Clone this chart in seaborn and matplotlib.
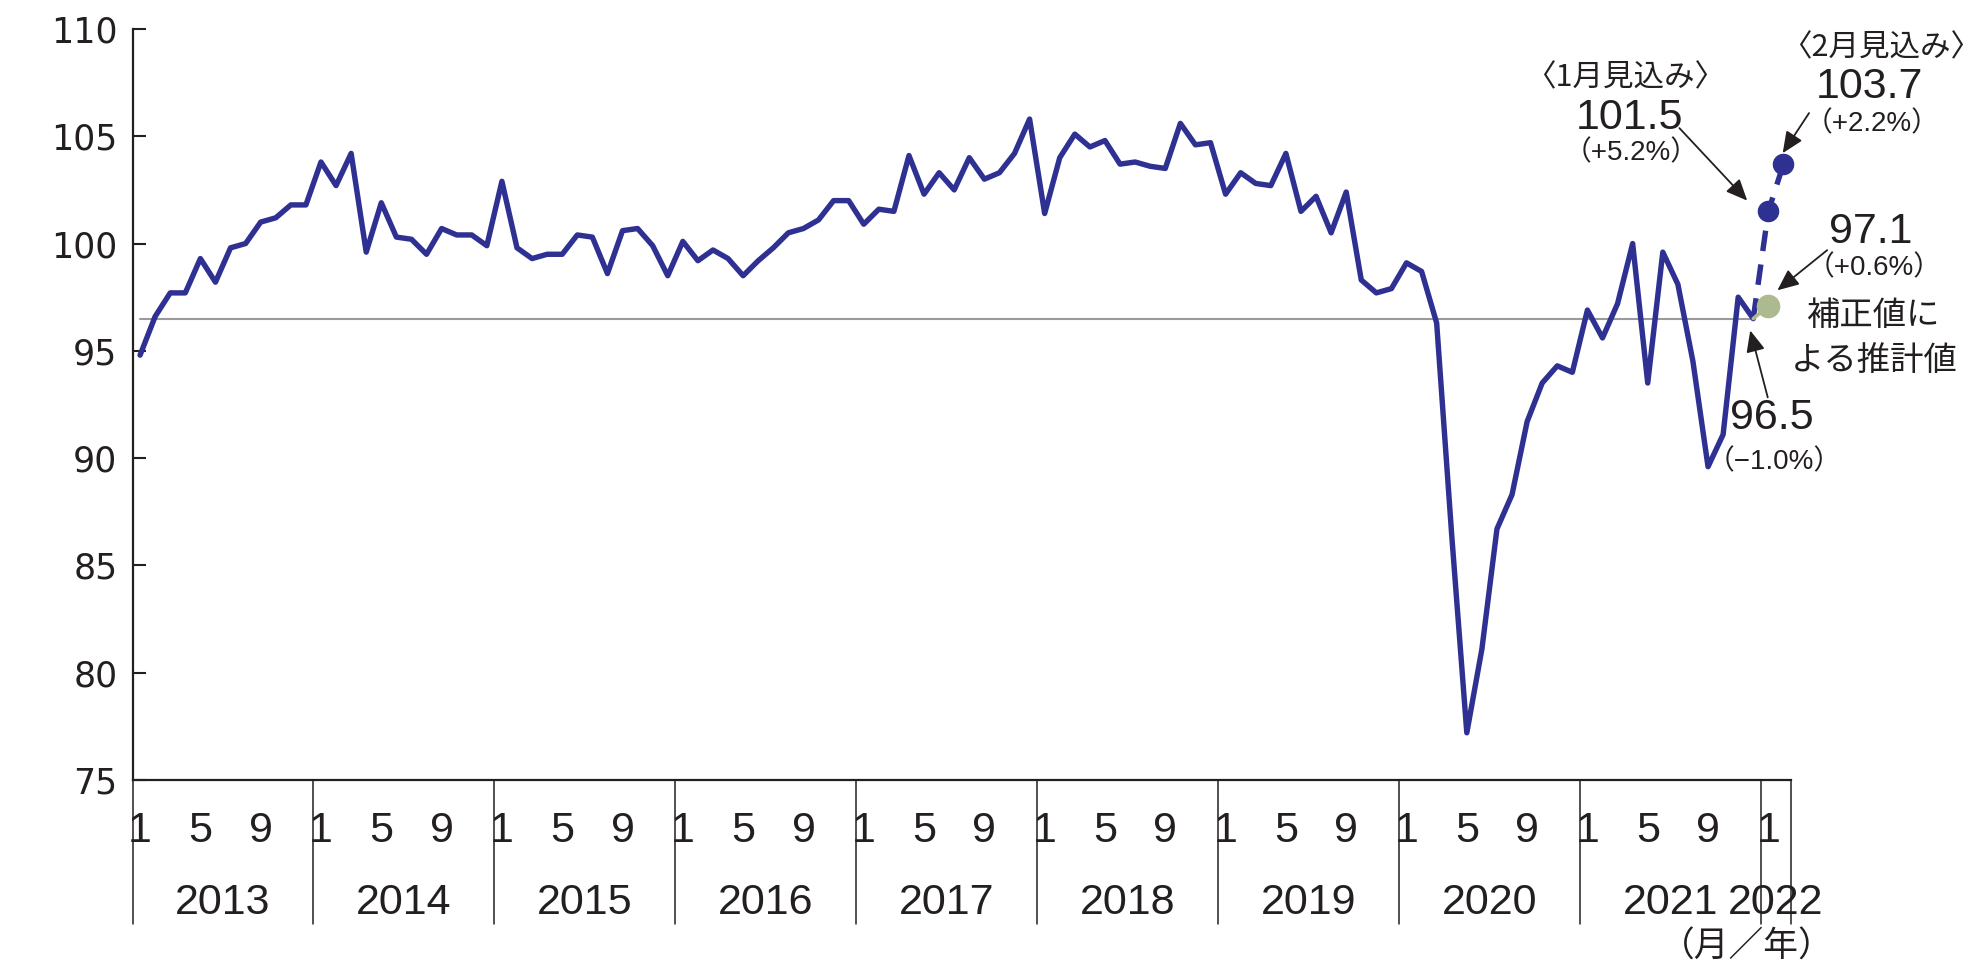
import matplotlib
matplotlib.use("Agg")
import matplotlib.pyplot as plt
from matplotlib import font_manager
import seaborn as sns
import pandas as pd
import numpy as np

# ---------------- data ----------------
years = [2013, 2014, 2015, 2016, 2017, 2018, 2019, 2020, 2021]
v2013 = [94.8, 96.6, 97.7, 97.7, 99.3, 98.2, 99.8, 100.0, 101.0, 101.2, 101.8, 101.8]
v2014 = [103.8, 102.7, 104.2, 99.6, 101.9, 100.3, 100.2, 99.5, 100.7, 100.4, 100.4, 99.9]
v2015 = [102.9, 99.8, 99.3, 99.5, 99.5, 100.4, 100.3, 98.6, 100.6, 100.7, 99.9, 98.5]
v2016 = [100.1, 99.2, 99.7, 99.3, 98.5, 99.2, 99.8, 100.5, 100.7, 101.1, 102.0, 102.0]
v2017 = [100.9, 101.6, 101.5, 104.1, 102.3, 103.3, 102.5, 104.0, 103.0, 103.3, 104.2, 105.8]
v2018 = [101.4, 104.0, 105.1, 104.5, 104.8, 103.7, 103.8, 103.6, 103.5, 105.6, 104.6, 104.7]
v2019 = [102.3, 103.3, 102.8, 102.7, 104.2, 101.5, 102.2, 100.5, 102.4, 98.3, 97.7, 97.9]
v2020 = [99.1, 98.7, 96.3, 86.4, 77.2, 81.1, 86.7, 88.3, 91.7, 93.5, 94.3, 94.0]
v2021 = [96.9, 95.6, 97.2, 100.0, 93.5, 99.6, 98.1, 94.5, 89.6, 91.1, 97.5, 96.5]

forecast_labels = ["2022-01", "2022-02"]
forecast_values = [101.5, 103.7]
corrected_value = 97.1   # 補正値による推計値 (2022-01)

month_tick_months = [1, 5, 9]
ytick_values = [75, 80, 85, 90, 95, 100, 105, 110]

# ---------------- build table ----------------
actual = v2013 + v2014 + v2015 + v2016 + v2017 + v2018 + v2019 + v2020 + v2021
dates = [f"{y}-{m:02d}" for y in years for m in range(1, 13)]
df = pd.DataFrame({"date": dates, "value": actual})
df["idx"] = np.arange(len(df))
n = len(df)
last_idx = n - 1
last_val = actual[-1]

fc = pd.DataFrame({"date": [dates[-1]] + forecast_labels,
                   "value": [last_val] + forecast_values})
fc["idx"] = np.arange(last_idx, last_idx + len(fc))

corr = pd.DataFrame({"idx": [last_idx, last_idx + 1], "value": [last_val, corrected_value]})

# ---------------- fonts ----------------
names = {f.name for f in font_manager.fontManager.ttflist}
NARROW = "Liberation Sans Narrow" if "Liberation Sans Narrow" in names else "Liberation Sans"
JP = "Noto Sans CJK JP"
NUMFAM = [NARROW, JP, "DejaVu Sans"]
JPFAM = [JP, "DejaVu Sans"]

sns.set_theme(style="white")
plt.rcParams["font.family"] = NUMFAM
plt.rcParams["axes.unicode_minus"] = True

BLUE = "#2E3192"
GREEN = "#ADB98E"
GREY = "#9A9A9A"
INK = "#231F20"
LW = 3.9

fig = plt.figure(figsize=(19.84, 9.65), dpi=100)
ax = fig.add_axes([0.0668, 0.1917, 0.8359, 0.7783])

# reference line at latest value
ax.plot([0, last_idx], [last_val, last_val], color=GREY, lw=1.5, zorder=1)

sns.lineplot(data=df, x="idx", y="value", ax=ax, color=BLUE, lw=LW, zorder=3)
sns.lineplot(data=fc, x="idx", y="value", ax=ax, color=BLUE, lw=LW, zorder=3,
             dashes=False, linestyle=(0, (3.8, 2.5)))
ax.plot(fc["idx"].iloc[1:], fc["value"].iloc[1:], "o", color=BLUE, ms=14.5, zorder=4)
sns.lineplot(data=corr, x="idx", y="value", ax=ax, color=GREEN, lw=2.6, zorder=4)
ax.plot([last_idx + 1], [corrected_value], "o", color=GREEN, ms=16, zorder=5)
for art in ax.lines:
    art.set_clip_on(False)

# axes limits / spines
ax.set_xlim(-0.5, n + 1.5)
ax.set_ylim(75, 110)
ax.set_xlabel("")
ax.set_ylabel("")
for s in ["top", "right"]:
    ax.spines[s].set_visible(False)
for s in ["left", "bottom"]:
    ax.spines[s].set_color(INK)
    ax.spines[s].set_linewidth(1.6)

ax.set_yticks(ytick_values)
ax.set_yticklabels([str(v) for v in ytick_values], family=["DejaVu Sans"], fontsize=25, color=INK)
ax.tick_params(axis="y", direction="in", length=9, width=1.5, color=INK, pad=11, left=True)

# month tick labels
all_months = [(y, m) for y in years for m in range(1, 13)] + [(2022, 1), (2022, 2)]
tick_pos = [i for i, (y, m) in enumerate(all_months) if m in month_tick_months]
tick_lab = [str(all_months[i][1]) for i in tick_pos]
ax.set_xticks(tick_pos)
ax.set_xticklabels(tick_lab, fontsize=31, color=INK)
ax.tick_params(axis="x", length=0, pad=22, bottom=False)

# year dividers and labels
tr = ax.get_xaxis_transform()
all_years = years + [2022]
bounds = []
for y in all_years:
    ids = [i for i, (yy, m) in enumerate(all_months) if yy == y]
    bounds.append((ids[0] - 0.5, ids[-1] + 0.5))
edges = sorted(set([b[0] for b in bounds] + [bounds[-1][1]]))
for e in edges:
    ax.plot([e, e], [0, -0.192], transform=tr, color=INK, lw=1.1, clip_on=False)
for y, (a, b) in zip(all_years, bounds):
    ax.text((a + b) / 2, -0.164, str(y), transform=tr, ha="center", va="center",
            fontsize=31, color=INK)
ax.text(106.6, -0.222, "（月／年）", transform=tr, ha="center", va="center",
        fontsize=25, family=JPFAM, color=INK)

# ---------------- annotations ----------------
def label(x, y, s, size, fam=NUMFAM):
    ax.text(x, y, s, ha="center", va="center", fontsize=size, family=fam,
            color=INK, clip_on=False)

def arrow(x0, y0, x1, y1):
    ax.annotate("", xy=(x1, y1), xytext=(x0, y0), annotation_clip=False,
                arrowprops=dict(arrowstyle="-|>,head_length=0.5,head_width=0.22",
                                mutation_scale=26, color=INK, lw=1.3,
                                shrinkA=0, shrinkB=0))

label(98.5, 107.7, "〈1月見込み〉", 22, JPFAM)
label(98.8, 105.85, f"{forecast_values[0]:.1f}", 31)
label(98.9, 104.2, "（+5.2%）", 20)
arrow(102.1, 105.38, 106.6, 102.0)

label(115.5, 109.1, "〈2月見込み〉", 22, JPFAM)
label(114.7, 107.3, f"{forecast_values[1]:.1f}", 31)
label(114.9, 105.57, "（+2.2%）", 20)
arrow(110.7, 106.08, 108.95, 104.21)

label(114.8, 100.53, f"{corrected_value:.1f}", 31)
label(115.0, 98.85, "（+0.6%）", 20)
arrow(111.9, 99.69, 108.6, 97.82)
label(115.0, 96.65, "補正値に", 24, JPFAM)
label(115.0, 94.55, "よる推計値", 24, JPFAM)

label(108.2, 91.85, f"{last_val:.1f}", 31)
label(108.4, 89.8, "（−1.0%）", 20)
arrow(107.96, 92.83, 106.8, 95.95)

fig.savefig("out.png", dpi=100, facecolor="white")
